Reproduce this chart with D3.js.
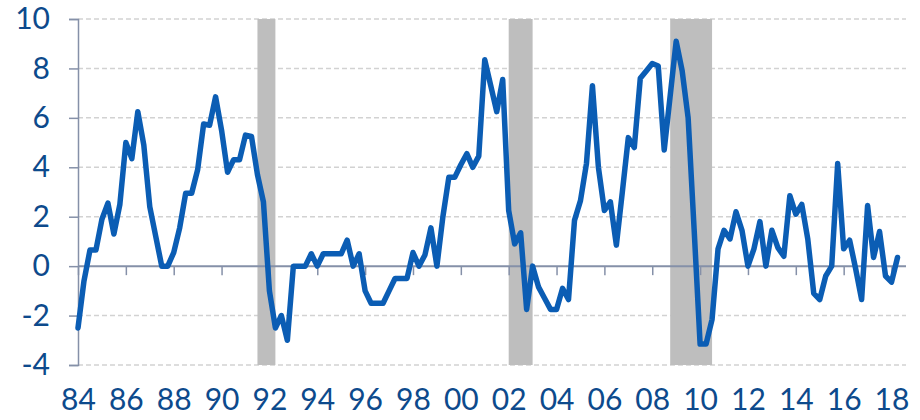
<!DOCTYPE html>
<meta charset="utf-8">
<script src="https://d3js.org/d3.v7.min.js"></script>
<style>
  body { margin: 0; background: #fff; }
  text { font-family: Lato, "Open Sans", sans-serif; fill: #0d4a8c; }
</style>
<div id="chart"></div>
<script>

// quarterly values, 1984Q1 .. 2018Q2
var startYear = 1984;
var values = [
  -2.5, -0.6, 0.65, 0.65,
  1.9, 2.55, 1.3, 2.5,
  5.0, 4.35, 6.25, 4.9,
  2.4, 1.2, 0.0, 0.0,
  0.55, 1.55, 2.95, 2.95,
  3.9, 5.75, 5.7, 6.85,
  5.5, 3.8, 4.3, 4.3,
  5.3, 5.25, 3.7, 2.6,
  -1.0, -2.5, -2.0, -3.0,
  0.0, 0.0, 0.0, 0.5,
  0.0, 0.5, 0.5, 0.5,
  0.5, 1.05, 0.0, 0.5,
  -1.0, -1.5, -1.5, -1.5,
  -1.0, -0.5, -0.5, -0.5,
  0.55, 0.0, 0.45, 1.55,
  0.0, 2.0, 3.6, 3.6,
  4.1, 4.55, 4.0, 4.45,
  8.35, 7.3, 6.25, 7.55,
  2.25, 0.9, 1.35, -1.75,
  0.0, -0.85, -1.3, -1.75,
  -1.75, -0.9, -1.35, 1.85,
  2.65, 4.15, 7.3, 4.0,
  2.25, 2.6, 0.85, 3.0,
  5.2, 4.8, 7.6, 7.9,
  8.2, 8.1, 4.7, 6.9,
  9.1, 7.9, 6.0, 1.5,
  -3.15, -3.15, -2.15, 0.7,
  1.45, 1.1, 2.2, 1.45,
  0.0, 0.7, 1.8, 0.0,
  1.45, 0.75, 0.4, 2.85,
  2.1, 2.5, 1.1, -1.1,
  -1.35, -0.4, 0.0, 4.15,
  0.7, 1.05, -0.1, -1.35,
  2.45, 0.35, 1.4, -0.4,
  -0.65, 0.35
];

// shaded periods (start, end) in years
var bandStarts = [1991.5, 2002.0, 2008.75];
var bandEnds   = [1992.25, 2003.0, 2010.5];

var yTicks = [-4, -2, 0, 2, 4, 6, 8, 10];
var xTicks = d3.range(1984, 2019, 2);
var xTickLabels = ["84","86","88","90","92","94","96","98","00","02","04","06","08","10","12","14","16","18"];

var width = 920, height = 420;

var svg = d3.select("#chart")
  .append("svg")
    .attr("width", width)
    .attr("height", height);

var x = d3.scaleLinear()
  .domain([1984, 2018.25])
  .range([78, 897.5]);

var y = d3.scaleLinear()
  .domain([-4, 10])
  .range([365, 19]);

// dashed gridlines
svg.append("g")
  .selectAll("line")
  .data(yTicks.filter(function(d) { return d !== 0; }))
  .enter()
  .append("line")
    .attr("x1", x(1984))
    .attr("x2", 906)
    .attr("y1", function(d) { return y(d); })
    .attr("y2", function(d) { return y(d); })
    .attr("stroke", "#d2d2d2")
    .attr("stroke-width", 1.5)
    .attr("stroke-dasharray", "5,3");

// recession bands
svg.append("g")
  .selectAll("rect")
  .data(bandStarts)
  .enter()
  .append("rect")
    .attr("x", function(d) { return x(d); })
    .attr("width", function(d, i) { return x(bandEnds[i]) - x(d); })
    .attr("y", y(10))
    .attr("height", y(-4) - y(10))
    .attr("fill", "#bebebe");

// y axis (plain hyphen for negatives)
var yAxis = svg.append("g")
  .attr("transform", "translate(" + x(1984) + ",0)")
  .call(d3.axisLeft(y).tickValues(yTicks).tickSize(9).tickPadding(19)
    .tickFormat(function(d) { return String(d); }));
yAxis.select(".domain").attr("stroke", "#8590a8").attr("stroke-width", 1.5);
yAxis.selectAll(".tick line").attr("stroke", "#8590a8").attr("stroke-width", 1.5);
yAxis.selectAll(".tick text")
  .style("font-size", "30px")
  .attr("fill", "#0d4a8c");

// zero line with tick marks
var xAxis = svg.append("g")
  .attr("transform", "translate(0," + y(0) + ")")
  .call(d3.axisBottom(x).tickValues(xTicks).tickSize(9).tickFormat(""));
xAxis.select(".domain")
  .attr("d", "M" + x(1984) + ",0H906")
  .attr("stroke", "#8590a8").attr("stroke-width", 2);
xAxis.selectAll(".tick line").attr("stroke", "#8590a8").attr("stroke-width", 1.5);

// year labels along the bottom
var xLabels = svg.append("g")
  .attr("transform", "translate(0," + y(-4) + ")")
  .call(d3.axisBottom(x).tickValues(xTicks).tickSize(0).tickPadding(24)
    .tickFormat(function(d, i) { return xTickLabels[i]; }));
xLabels.select(".domain").remove();
xLabels.selectAll(".tick text")
  .style("font-size", "30px")
  .attr("fill", "#0d4a8c");

// the series
var line = d3.line()
  .x(function(d, i) { return x(startYear + i / 4); })
  .y(function(d) { return y(d); });

svg.append("path")
  .datum(values)
  .attr("d", line)
  .attr("fill", "none")
  .attr("stroke", "#0b5db4")
  .attr("stroke-width", 5.5)
  .attr("stroke-linejoin", "round")
  .attr("stroke-linecap", "round");

</script>
